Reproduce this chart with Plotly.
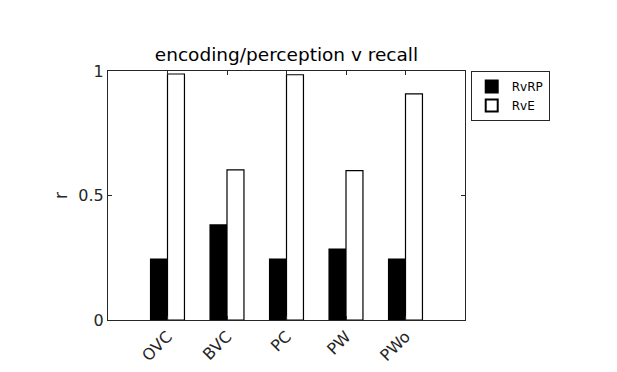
import plotly.graph_objects as go

categories = ["OVC", "BVC", "PC", "PW", "PWo"]
rvrp = [0.245, 0.382, 0.245, 0.285, 0.245]
rve = [0.988, 0.603, 0.985, 0.600, 0.908]
series_names = ["RvRP", "RvE"]
xpos = [1, 2, 3, 4, 5]

font_family = "DejaVu Sans, sans-serif"

fig = go.Figure()
fig.add_trace(go.Bar(x=xpos, y=rvrp, name=series_names[0],
                     marker=dict(color="black", line=dict(color="black", width=1.2))))
fig.add_trace(go.Bar(x=xpos, y=rve, name=series_names[1],
                     marker=dict(color="white", line=dict(color="black", width=1.2))))

fig.update_layout(
    width=617, height=372,
    margin=dict(l=100, r=160, t=63, b=60),
    paper_bgcolor="white", plot_bgcolor="white",
    barmode="group", bargap=0.43, bargroupgap=0,
    font=dict(family=font_family, size=15, color="#262626"),
    title=dict(text="encoding/perception v recall", xref="paper", x=0.5, xanchor="center",
               yref="container", y=1 - 47 / 372, yanchor="middle",
               font=dict(family=font_family, size=18.5, color="black")),
    showlegend=True,
    legend=dict(x=1.016, xanchor="left", y=1.0, yanchor="top",
                bordercolor="#262626", borderwidth=1, bgcolor="white",
                font=dict(family=font_family, size=12, color="black"),
                tracegroupgap=0, itemsizing="constant"),
    xaxis=dict(range=[0, 6], tickmode="array", tickvals=xpos, ticktext=categories,
               tickangle=-45, ticks="inside", ticklen=4, tickcolor="#262626",
               showline=True, linecolor="#262626", linewidth=1, mirror="ticks",
               showgrid=False, zeroline=False,
               tickfont=dict(family=font_family, size=16, color="#262626")),
    yaxis=dict(range=[0, 1], tickvals=[0, 0.5, 1], ticktext=["0", "0.5", "1"],
               ticks="inside", ticklen=4, tickcolor="#262626",
               showline=True, linecolor="#262626", linewidth=1, mirror="ticks",
               showgrid=False, zeroline=False,
               title=dict(text="r", standoff=6,
                          font=dict(family=font_family, size=17, color="#262626")),
               tickfont=dict(family=font_family, size=16, color="#262626")),
)

fig.write_html("out.html")
